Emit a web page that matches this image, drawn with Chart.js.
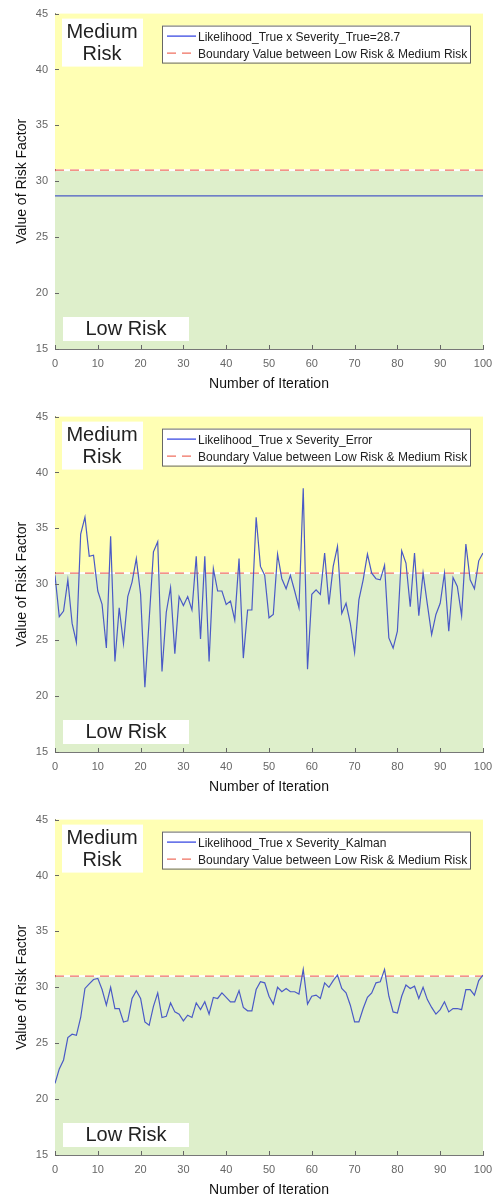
<!DOCTYPE html>
<html>
<head>
<meta charset="utf-8">
<script src="https://cdn.jsdelivr.net/npm/chart.js@4.4.0/dist/chart.umd.min.js"></script>
<style>
  body { margin: 0; background: #fff; }
  .panel { width: 497px; height: 403px; }
</style>
</head>
<body>
<div class="panel"><canvas id="chartTrue" width="497" height="403"></canvas></div>
<div class="panel"><canvas id="chartError" width="497" height="403"></canvas></div>
<div class="panel"><canvas id="chartKalman" width="497" height="403"></canvas></div>
<script>
// Data
const iterations = Array.from({ length: 101 }, (_, i) => i);
const xTicks = [0, 10, 20, 30, 40, 50, 60, 70, 80, 90, 100];
const yTicks = [15, 20, 25, 30, 35, 40, 45];
const boundaryValue = 31;
const trueProduct = 28.7;

const severityError = [
    30.8, 27.1, 27.6, 30.4, 26.5, 24.8, 34.5, 36.0, 32.5, 32.6,
    29.4, 28.2, 24.3, 34.3, 23.1, 27.9, 24.7, 28.9, 30.2, 32.3,
    29.1, 20.8, 26.8, 32.9, 33.8, 22.2, 27.5, 29.7, 23.8, 28.9,
    28.1, 28.9, 27.7, 32.5, 25.1, 32.5, 23.1, 31.4, 29.4, 29.4,
    28.2, 28.5, 26.8, 32.3, 23.4, 27.7, 27.7, 36.0, 31.6, 30.8,
    27.0, 27.3, 32.7, 30.5, 29.6, 30.8, 29.4, 27.9, 38.6, 22.4,
    29.1, 29.5, 29.1, 32.8, 28.2, 31.6, 33.4, 27.4, 28.3, 26.5,
    23.9, 28.6, 30.4, 32.7, 31.0, 30.5, 30.4, 31.7, 25.2, 24.3,
    25.8, 33.0, 31.9, 28.0, 32.8, 27.2, 31.0, 28.2, 25.5, 27.3,
    28.3, 31.0, 25.8, 30.6, 29.8, 27.2, 33.6, 30.4, 29.6, 32.1,
    32.8
];

const severityKalman = [
    21.4, 22.7, 23.5, 25.5, 25.8, 25.7, 27.3, 29.9, 30.3, 30.7,
    30.8, 29.8, 28.4, 30.0, 28.1, 28.1, 26.9, 27.0, 29.0, 29.7,
    29.0, 26.9, 26.6, 28.3, 29.5, 27.3, 27.4, 28.6, 27.8, 27.6,
    27.0, 27.5, 27.3, 28.6, 28.0, 28.7, 27.6, 29.1, 29.0, 29.5,
    29.1, 28.7, 28.7, 29.7, 28.2, 27.9, 27.9, 29.8, 30.5, 30.4,
    29.2, 28.5, 30.0, 29.6, 29.9, 29.6, 29.6, 29.4, 31.6, 28.5,
    29.2, 29.3, 29.0, 30.4, 30.0, 30.6, 31.1, 29.9, 29.5, 28.4,
    26.9, 26.9, 28.1, 29.1, 29.5, 30.4, 30.5, 31.6, 29.2, 27.8,
    27.7, 29.2, 30.2, 29.9, 30.1, 29.0, 30.0, 28.9, 28.2, 27.6,
    28.0, 28.7, 27.8, 28.1, 28.1, 28.0, 29.8, 29.8, 29.3, 30.6,
    31.1
];

const FONT = "'Liberation Sans', Arial, sans-serif";
const seriesColor = '#4a5ac6';
const boundaryColor = '#f07060';

// Yellow / green risk zones behind the lines
const zonesPlugin = {
    id: 'zones',
    beforeDatasetsDraw(chart) {
        const { ctx, chartArea, scales } = chart;
        const yb = scales.y.getPixelForValue(boundaryValue);
        ctx.save();
        ctx.fillStyle = '#ffffb4';
        ctx.fillRect(chartArea.left, chartArea.top, chartArea.right - chartArea.left, yb - 1 - chartArea.top);
        ctx.fillStyle = '#deefcb';
        ctx.fillRect(chartArea.left, yb + 1, chartArea.right - chartArea.left, chartArea.bottom - yb - 1);
        ctx.restore();
    }
};

// Ticks pointing into the plot, plus boxes and legend
const overlayPlugin = {
    id: 'overlay',
    afterDatasetsDraw(chart) {
        const { ctx, chartArea, scales } = chart;
        const { left, top, bottom } = chartArea;
        ctx.save();

        // inward ticks
        ctx.strokeStyle = '#666';
        ctx.lineWidth = 1;
        ctx.beginPath();
        xTicks.forEach(v => {
            const x = Math.round(scales.x.getPixelForValue(v)) + 0.5;
            ctx.moveTo(x, bottom);
            ctx.lineTo(x, bottom - 4);
        });
        yTicks.forEach(v => {
            const y = Math.round(scales.y.getPixelForValue(v)) + 0.5;
            ctx.moveTo(left, y);
            ctx.lineTo(left + 4, y);
        });
        ctx.stroke();

        // Medium Risk box
        ctx.fillStyle = '#fff';
        ctx.fillRect(left + 7, top + 5, 81, 48);
        ctx.fillStyle = '#222';
        ctx.font = '20px ' + FONT;
        ctx.textAlign = 'center';
        ctx.textBaseline = 'alphabetic';
        ctx.fillText('Medium', left + 47, top + 24);
        ctx.fillText('Risk', left + 47, top + 46);

        // Low Risk box
        ctx.fillStyle = '#fff';
        ctx.fillRect(left + 8, bottom - 32, 126, 24);
        ctx.fillStyle = '#222';
        ctx.fillText('Low Risk', left + 71, bottom - 14);

        // legend
        const lx = left + 107, ly = top + 12;
        ctx.fillStyle = '#fff';
        ctx.fillRect(lx, ly, 308, 37);
        ctx.strokeStyle = '#666';
        ctx.strokeRect(lx + 0.5, ly + 0.5, 308, 37);
        ctx.font = '12px ' + FONT;
        ctx.textAlign = 'left';
        chart.data.datasets.forEach((ds, i) => {
            const rowY = ly + 10.5 + i * 17;
            ctx.strokeStyle = i === 0 ? '#2a3be0' : ds.borderColor;
            ctx.lineWidth = 1.2;
            ctx.setLineDash(ds.borderDash || []);
            ctx.beginPath();
            ctx.moveTo(lx + 5, rowY);
            ctx.lineTo(lx + 34, rowY);
            ctx.stroke();
            ctx.setLineDash([]);
            ctx.fillStyle = '#222';
            ctx.fillText(ds.label, lx + 36, rowY + 4.5);
        });
        ctx.restore();
    }
};

function makeChart(canvasId, seriesLabel, values) {
    const ctx = document.getElementById(canvasId).getContext('2d');
    return new Chart(ctx, {
        type: 'line',
        data: {
            datasets: [{
                label: seriesLabel,
                data: values.map((v, i) => ({ x: iterations[i], y: v })),
                borderColor: seriesColor,
                borderWidth: 1.2,
                pointRadius: 0,
                tension: 0,
                fill: false
            }, {
                label: 'Boundary Value between Low Risk & Medium Risk',
                data: [{ x: xTicks[0], y: boundaryValue }, { x: xTicks[xTicks.length - 1], y: boundaryValue }],
                borderColor: boundaryColor,
                borderWidth: 1.3,
                borderDash: [9, 6],
                pointRadius: 0,
                fill: false
            }]
        },
        options: {
            responsive: false,
            animation: false,
            devicePixelRatio: 1,
            layout: { padding: { top: 12, right: 14, left: 0, bottom: 0 } },
            plugins: {
                legend: { display: false },
                tooltip: { enabled: false }
            },
            scales: {
                x: {
                    type: 'linear',
                    min: 0,
                    max: 100,
                    afterBuildTicks: scale => { scale.ticks = xTicks.map(v => ({ value: v })); },
                    afterFit: scale => {
                        scale.height = 54;
                        scale.paddingLeft = 0;
                        scale.paddingRight = 0;
                    },
                    grid: { display: false, drawTicks: false },
                    border: { display: true, color: '#777', width: 1 },
                    ticks: { color: '#666', padding: 8, font: { family: FONT, size: 11 } },
                    title: {
                        display: true,
                        text: 'Number of Iteration',
                        color: '#111',
                        padding: { top: 0, bottom: 10 },
                        font: { family: FONT, size: 14 }
                    }
                },
                y: {
                    min: 15,
                    max: 45,
                    afterBuildTicks: scale => { scale.ticks = yTicks.map(v => ({ value: v })); },
                    afterFit: scale => { scale.width = 55; },
                    grid: { display: false, drawTicks: false },
                    border: { display: true, color: '#555', width: 1 },
                    ticks: { color: '#666', padding: 7, font: { family: FONT, size: 11 } },
                    title: {
                        display: true,
                        text: 'Value of Risk Factor',
                        color: '#111',
                        padding: { top: 14, bottom: 0 },
                        font: { family: FONT, size: 14 }
                    }
                }
            }
        },
        plugins: [zonesPlugin, overlayPlugin]
    });
}

makeChart('chartTrue', 'Likelihood_True x Severity_True=28.7', iterations.map(() => trueProduct));
makeChart('chartError', 'Likelihood_True x Severity_Error', severityError);
makeChart('chartKalman', 'Likelihood_True x Severity_Kalman', severityKalman);
</script>
</body>
</html>
